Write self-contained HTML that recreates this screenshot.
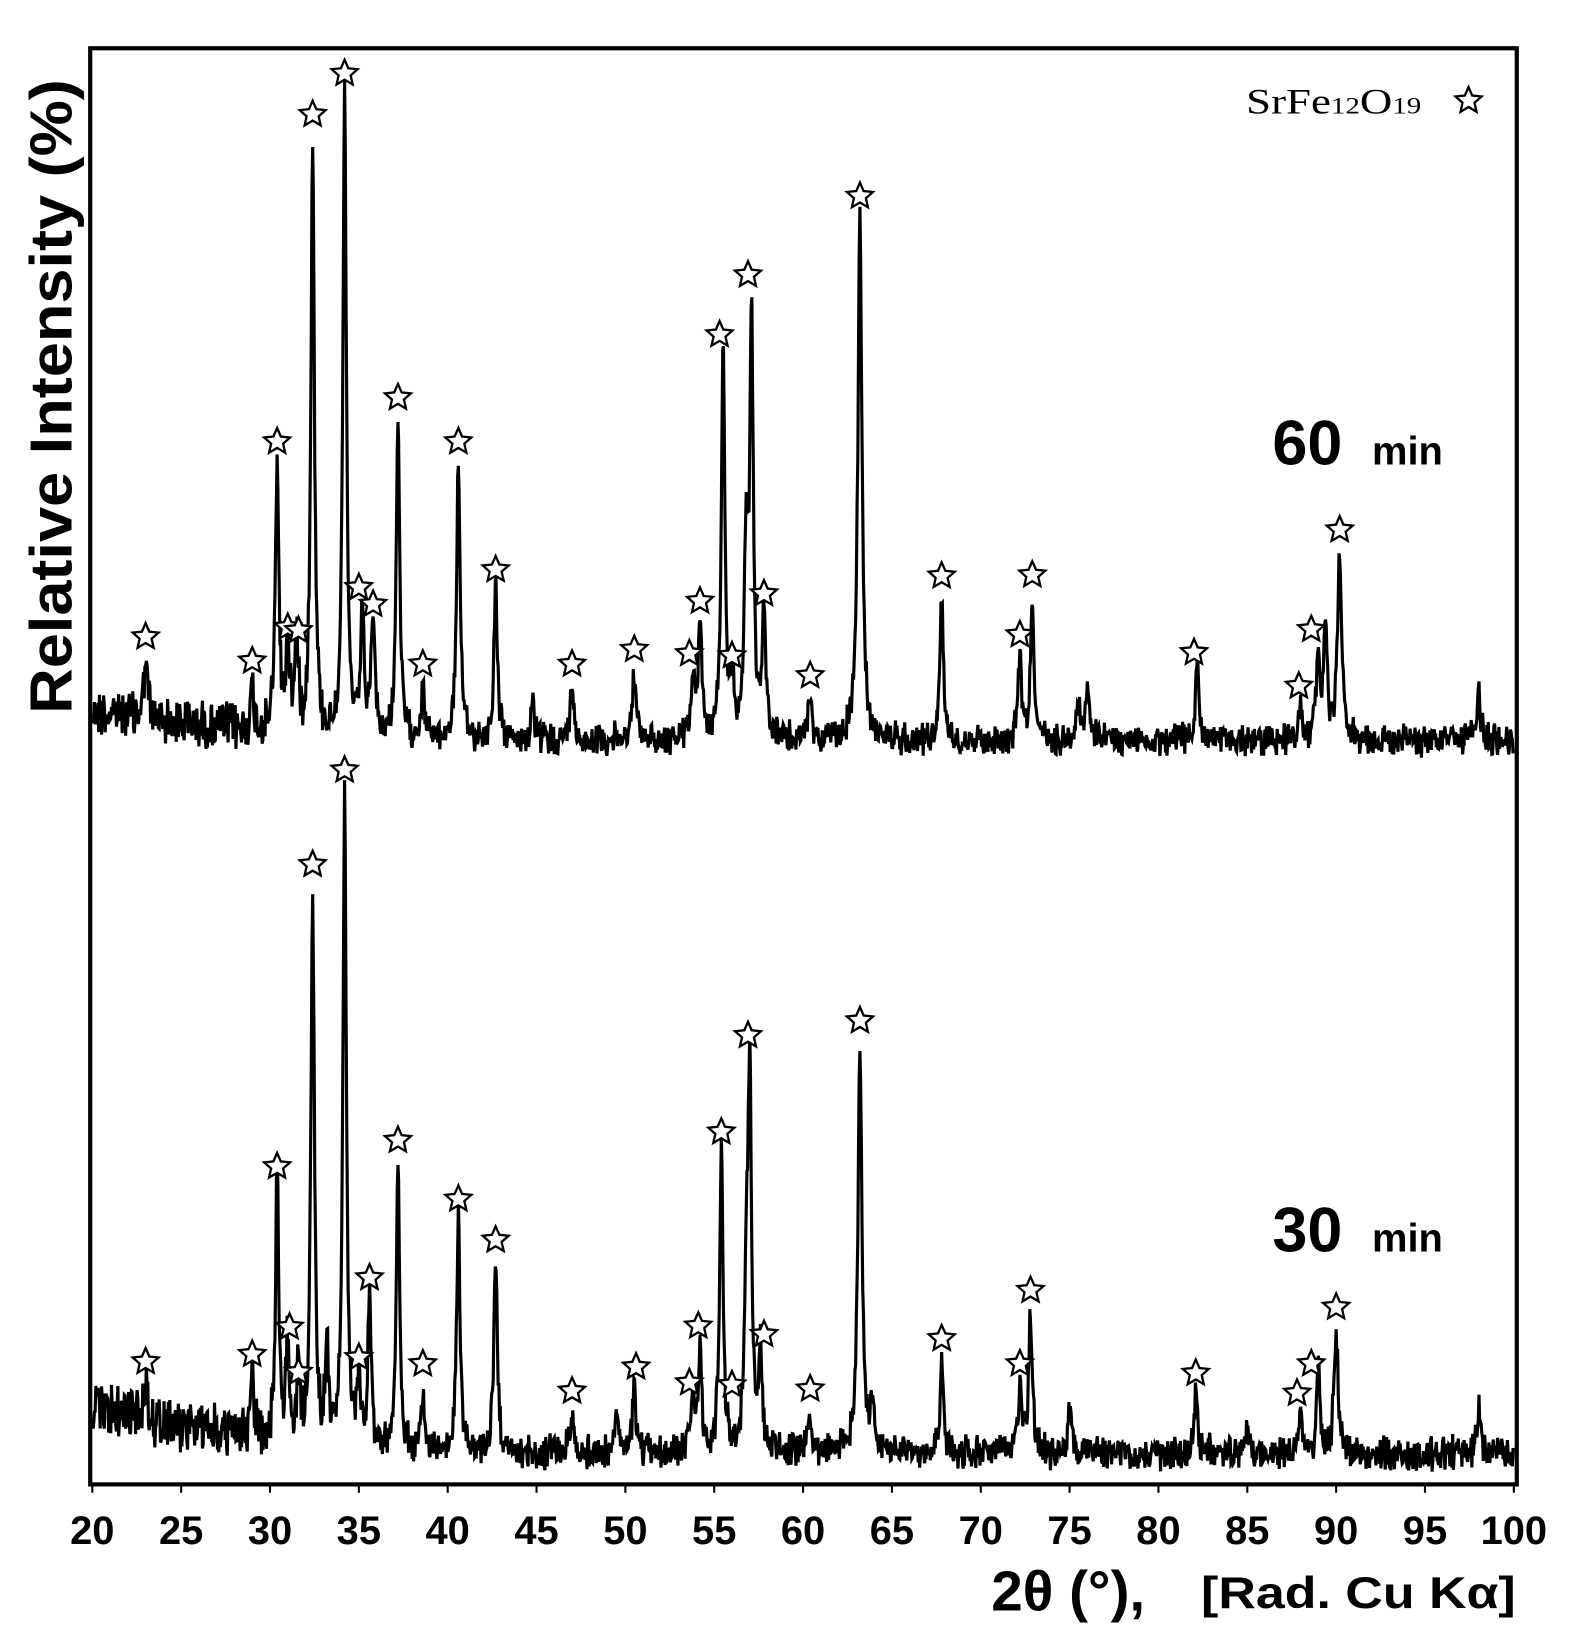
<!DOCTYPE html>
<html><head><meta charset="utf-8"><style>
html,body{margin:0;padding:0;background:#fff;}
svg{display:block;}
text{font-family:"Liberation Sans",Arial,sans-serif;font-weight:bold;fill:#000;}
</style></head><body>
<svg id="s" width="1586" height="1647" viewBox="0 0 1512 1570" preserveAspectRatio="none" xmlns="http://www.w3.org/2000/svg">
<rect x="0" y="0" width="1512" height="1570" fill="#fff"/>
<g id="curves"></g>
<g id="stars"></g>
<rect x="86" y="46" width="1360" height="1369" fill="none" stroke="#000" stroke-width="4"/>
<g id="ticks"></g>
<text x="0" y="0" font-size="57" text-anchor="middle" transform="translate(68 378) rotate(-90)" textLength="605" lengthAdjust="spacingAndGlyphs">Relative Intensity (%)</text>
<text x="1213" y="443" font-size="60">60</text><text x="1308" y="443" font-size="38">min</text>
<text x="1213" y="1193" font-size="60">30</text><text x="1308" y="1193" font-size="38">min</text>
<text x="1188" y="108" font-size="34" style="font-family:'Liberation Serif',serif;font-weight:normal" textLength="167" lengthAdjust="spacingAndGlyphs">SrFe<tspan font-size="22">12</tspan>O<tspan font-size="22">19</tspan></text>
<text x="945" y="1535" font-size="54">2θ (°),</text>
<text x="1145" y="1533" font-size="42" textLength="300" lengthAdjust="spacingAndGlyphs">[Rad. Cu Kα]</text>
</svg>
<script>
(function(){
var NS="http://www.w3.org/2000/svg";
function X(d){return 88+(d-20)*16.94;}
var seed=12345;function rnd(){seed=(seed*1103515245+12345)%2147483648;return seed/2147483648;}
function curve(base,peaks,leftBase,noise){
 var pts=[];
 for(var d=20;d<=100;d+=0.04){
  var b=base;
  if(d<33){b=leftBase+(base-leftBase)*Math.max(0,(d-20)/13);}
  var n=(rnd()-0.5)*2*noise*(d<33?1.7:1)+(rnd()-0.5)*noise;
  var y=b+n;
  for(var i=0;i<peaks.length;i++){var p=peaks[i];var w=p[2]||0.17;var t=(d-p[0])/w;y-= (b-p[1])/(1+t*t*2.2);}
  pts.push(X(d).toFixed(1)+","+y.toFixed(1));
 }
 var pl=document.createElementNS(NS,"polyline");
 pl.setAttribute("points",pts.join(" "));pl.setAttribute("fill","none");pl.setAttribute("stroke","#000");pl.setAttribute("stroke-width","3");
 document.getElementById("curves").appendChild(pl);
}
var p60=[[23,625],[29,660],[30.4,440],[31,610],[31.5,615],[32.4,125],[34.2,88],[35.2,585],[35.8,590],[37.2,398],[38.6,655],[40.6,435],[42.7,560],[44.8,675],[47,655],[50.5,640],[53.8,640],[54.2,590],[55.5,338],[56,650],[56.8,520],[57.1,300],[57.8,585],[60.4,665],[63.2,205,0.2],[67.8,570],[72.2,620],[72.9,570],[75.5,665],[76,650],[82.2,630],[88,670],[89,615],[89.4,600],[90.2,525,0.2],[98,655]];
var p30=[[23,1320],[29,1310],[30.4,1130],[31,1285],[31.6,1310],[32.4,845],[33.2,1290],[34.2,755],[35,1320],[35.6,1240],[37.2,1105],[38.6,1330],[40.6,1160],[42.7,1200],[47,1345],[49.5,1350],[50.5,1325],[53.8,1330],[54.2,1285],[55.4,1095],[56.8,1230],[57,1030],[57.6,1290],[60.4,1345],[63.2,990,0.2],[63.9,1340],[67.8,1295],[72.2,1320],[72.8,1250],[75,1345],[82.1,1330],[85,1355],[88,1345],[89,1300],[90,1270,0.2],[98,1340]];
curve(706,p60,678,12);
curve(1386,p30,1342,13);
function star(cx,cy){
 var s=[];for(var i=0;i<10;i++){var r=i%2?6:13;var a=-Math.PI/2+i*Math.PI/5;s.push((cx+r*Math.cos(a)).toFixed(1)+","+(cy+r*Math.sin(a)).toFixed(1));}
 var pg=document.createElementNS(NS,"polygon");pg.setAttribute("points",s.join(" "));pg.setAttribute("fill","#fff");pg.setAttribute("stroke","#000");pg.setAttribute("stroke-width","2.2");
 document.getElementById("stars").appendChild(pg);
}
var s60=[[23,607],[29,630],[30.4,421],[31,598],[31.6,601],[32.4,109],[34.2,70],[35,560],[35.8,576],[37.2,379],[38.6,633],[40.6,421],[42.7,543],[47,633],[50.5,619],[53.6,623],[54.2,573],[55.3,319],[56,625],[56.9,262],[57.8,566],[60.4,644],[63.2,187],[67.8,549],[72.2,605],[72.9,548],[82,622],[87.9,654],[88.6,600],[90.2,505]];
var s30=[[23,1298],[29,1291],[30.4,1112],[31.1,1265],[31.6,1308],[32.4,824],[34.2,734],[35,1294],[35.6,1218],[37.2,1087],[38.6,1300],[40.6,1143],[42.7,1182],[47,1326],[50.6,1303],[53.6,1318],[54.1,1264],[55.4,1079],[56,1320],[56.9,987],[57.8,1272],[60.4,1324],[63.2,973],[67.8,1276],[72.2,1300],[72.8,1230],[82.1,1309],[87.8,1328],[88.6,1300],[90,1246]];
s60.concat(s30).forEach(function(p){star(X(p[0]),p[1]);});
star(1400,96);
var tk=document.getElementById("ticks");
for(var d=20;d<=100;d+=5){
 var l=document.createElementNS(NS,"line");l.setAttribute("x1",X(d));l.setAttribute("x2",X(d));l.setAttribute("y1",1415);l.setAttribute("y2",1423);l.setAttribute("stroke","#000");l.setAttribute("stroke-width","2");tk.appendChild(l);
 var t=document.createElementNS(NS,"text");t.setAttribute("x",X(d));t.setAttribute("y",1472);t.setAttribute("font-size","38");t.setAttribute("text-anchor","middle");t.textContent=d;tk.appendChild(t);
}
})();
</script>
</body></html>
